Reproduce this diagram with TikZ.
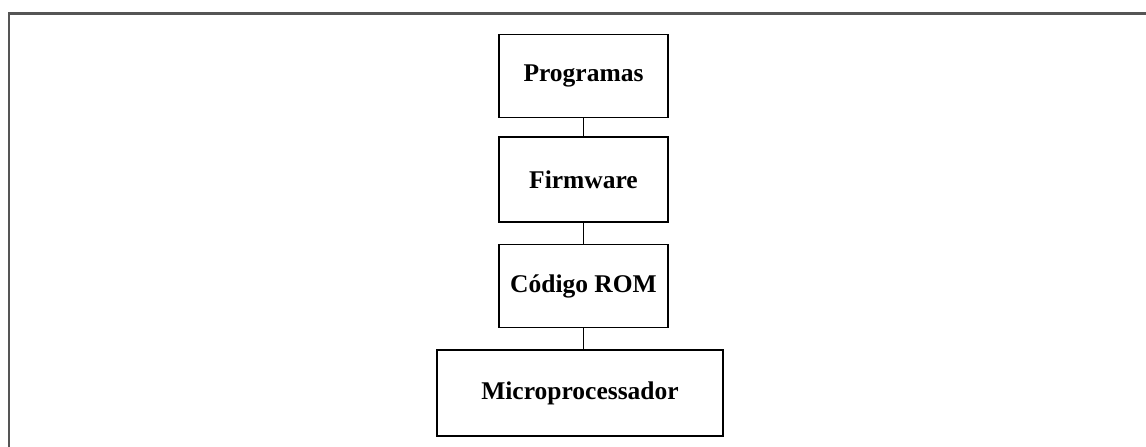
\documentclass[tikz,border=0pt]{standalone}
\usepackage{fontspec}
\setmainfont{Liberation Serif}
\definecolor{framegray}{RGB}{85,85,85}

\begin{document}
\begin{tikzpicture}[x=1pt, y=-1pt,
    layerbox/.style={draw, line width=1.6pt, minimum width=169pt, minimum height=83pt,
        inner sep=0pt, font=\fontsize{25.5}{30}\selectfont\bfseries}]
    \useasboundingbox (0,0) rectangle (1146,447);

    % Outer frame (top and left only)
    \draw[framegray, line width=2.6pt] (9,447) -- (9,13.5) -- (1146,13.5);

    % Four layers
    \node[layerbox] (prog) at (583.5,76) {Programas};
    \node[layerbox, minimum height=85pt] (firm) at (583.5,179.5) {Firmware};
    \node[layerbox] (rom) at (583.5,286) {Código ROM};
    \node[layerbox, minimum width=286pt, minimum height=86pt] (micro) at (580,393) {Microprocessador};

    % Links
    \draw[line width=1.8pt] (prog) -- (firm);
    \draw[line width=1.8pt] (firm) -- (rom);
    \draw[line width=1.8pt] (rom.south) -- (rom.south |- micro.north);
\end{tikzpicture}
\end{document}
